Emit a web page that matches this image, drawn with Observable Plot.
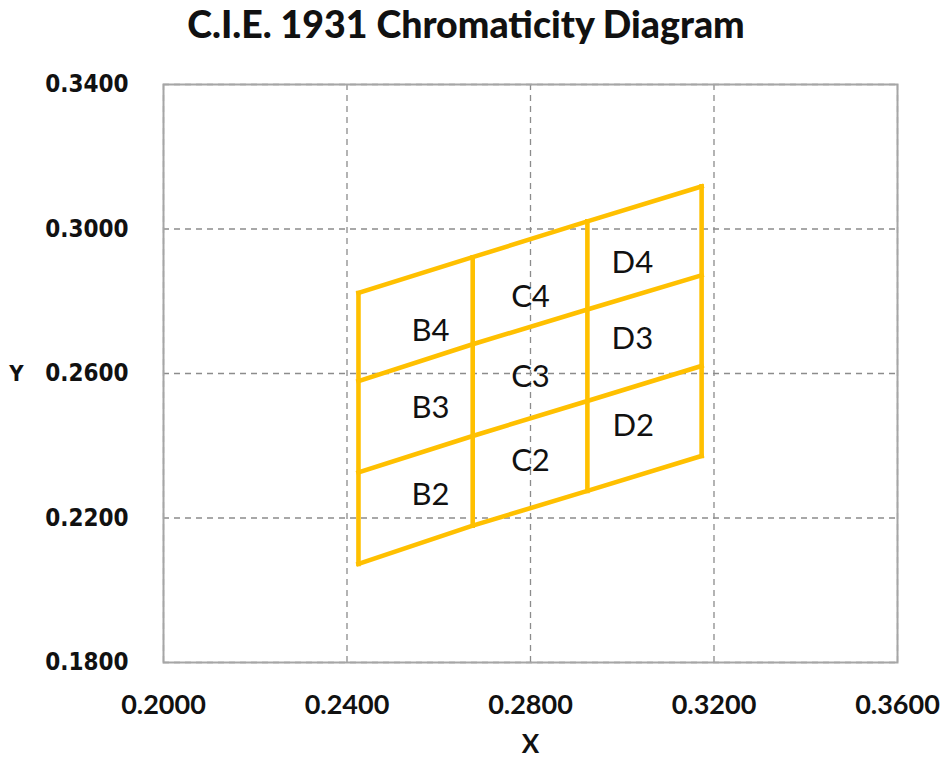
<!DOCTYPE html>
<html>
<head>
<meta charset="utf-8">
<script src="https://cdn.jsdelivr.net/npm/d3@7"></script>
<script src="https://cdn.jsdelivr.net/npm/@observablehq/plot@0.6"></script>
<style>
  html, body { margin: 0; padding: 0; background: #fff; }
  #title { width: 942px; height: 50px; line-height: 48px; text-align: center; font-family: Lato, "Open Sans", sans-serif; font-weight: 900; font-size: 37.5px; color: #111; position: relative; left: -5px; white-space: nowrap; }
</style>
</head>
<body>
<div id="title">C.I.E. 1931 Chromaticity Diagram</div>
<div id="chart"></div>
<script>
// Tick values
const xTicks = [0.20, 0.24, 0.28, 0.32, 0.36];
const yTicks = [0.18, 0.22, 0.26, 0.30, 0.34];

// Bin grid: column x positions and y of each boundary line at each column
const colX   = [0.2425, 0.2674, 0.2924, 0.3173];
const lineY4 = [0.2823, 0.2922, 0.3021, 0.3118];
const lineY3 = [0.2579, 0.2681, 0.2777, 0.2872];
const lineY2 = [0.2326, 0.2427, 0.2524, 0.2621];
const lineY1 = [0.2073, 0.2179, 0.2275, 0.2372];

// Cell labels
const cellNames = ["B4", "B3", "B2", "C4", "C3", "C2", "D4", "D3", "D2"];
const cellX     = [0.2582, 0.2582, 0.2582, 0.2800, 0.2800, 0.2800, 0.3022, 0.3022, 0.3024];
const cellY     = [0.2717, 0.2505, 0.2264, 0.2811, 0.2590, 0.2358, 0.2905, 0.2695, 0.2455];

const rows = [lineY1, lineY2, lineY3, lineY4];
const segs = [];
rows.forEach((ys, r) => colX.forEach((x, i) => segs.push({id: "h" + r, x, y: ys[i]})));
colX.forEach((x, i) => {
  segs.push({id: "v" + i, x, y: lineY1[i]});
  segs.push({id: "v" + i, x, y: lineY4[i]});
});
const cells = cellNames.map((t, i) => ({t, x: cellX[i], y: cellY[i]}));

const fmt = d => d.toFixed(4);
const gridStyle = {stroke: "#8c8c8c", strokeOpacity: 1, strokeDasharray: "6,5", strokeWidth: 1.3};

const chart = Plot.plot({
  width: 942,
  height: 712,
  marginTop: 34,
  marginLeft: 163,
  marginRight: 45,
  marginBottom: 100,
  x: {domain: [0.2, 0.36], axis: null},
  y: {domain: [0.18, 0.34], axis: null},
  marks: [
    Plot.gridX(xTicks, gridStyle),
    Plot.gridY(yTicks, gridStyle),
    Plot.frame({stroke: "#a6a6a6", strokeWidth: 2}),
    Plot.axisX(xTicks, {tickSize: 0, tickPadding: 32, tickFormat: fmt, fontSize: 27, fontFamily: "Lato, sans-serif", fontWeight: "bold", fill: "#111", label: null}),
    Plot.axisY(yTicks, {tickSize: 0, tickPadding: 35, tickFormat: fmt, fontSize: 24, fontFamily: "'DejaVu Sans Condensed', 'DejaVu Sans', sans-serif", fontWeight: "bold", fill: "#111", label: null}),
    Plot.line(segs, {x: "x", y: "y", z: "id", stroke: "#FFC000", strokeWidth: 4.6, strokeLinecap: "square", strokeLinejoin: "miter"}),
    Plot.text(cells, {x: "x", y: "y", text: "t", fontSize: 31, fontFamily: "Lato, sans-serif", fill: "#111"}),
    Plot.text(["Y"], {frameAnchor: "left", dx: -147, textAnchor: "middle", fontSize: 22, fontFamily: "'DejaVu Sans Condensed', 'DejaVu Sans', sans-serif", fontWeight: "bold", fill: "#111"}),
    Plot.text(["X"], {frameAnchor: "bottom", dy: 90, textAnchor: "middle", fontSize: 26, fontFamily: "Lato, sans-serif", fontWeight: "bold", fill: "#111"})
  ]
});
document.getElementById("chart").appendChild(chart);
</script>
</body>
</html>
